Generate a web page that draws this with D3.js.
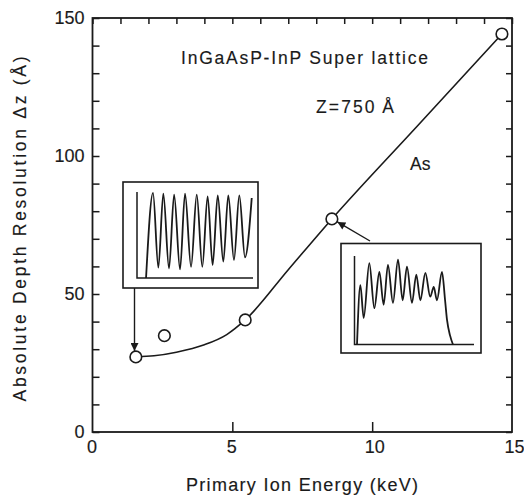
<!DOCTYPE html>
<html><head><meta charset="utf-8">
<script src="https://cdn.jsdelivr.net/npm/d3@7"></script>
<style>
body{margin:0;background:#fff}
svg{display:block}
text{font-family:"Liberation Sans",Arial,Helvetica,sans-serif;fill:#1a1a1a;stroke:#1a1a1a;stroke-width:0.15px}
</style>
</head><body>
<svg id="chart" width="524" height="497"></svg>
<script>
// ---- data ----
const energy = [1.55, 2.57, 5.46, 8.56, 14.64];          // keV
const resolution = [27.2, 34.9, 40.6, 77.2, 144.2];      // Å
// hand-drawn guide curve through the points
const curveEnergy = [1.55, 2.2, 3.0, 4.0, 4.8, 5.46, 7.0, 8.56, 11.6, 14.64];
const curveResolution = [27.2, 27.6, 28.9, 31.6, 35.3, 40.6, 58.8, 77.2, 110.7, 144.2];
const xTickLabels = [0, 5, 10, 15];
const yTickLabels = [0, 50, 100, 150];
const xMinorTicks = d3.range(0, 16, 1);
const yMinorTicks = d3.range(0, 151, 10);
const xBottomTicks = [5, 10];
// inset depth profiles (relative depth, relative intensity)
const insetLowDepth = [0.078,0.138,0.184,0.227,0.276,0.32,0.371,0.414,0.466,0.515,0.563,0.609,0.652,0.696,0.744,0.787,0.836,0.882,0.931,0.989];
const insetLowSignal = [0,0.99,0.12,0.98,0.11,0.97,0.10,0.98,0.13,0.97,0.13,0.95,0.15,0.96,0.19,0.96,0.21,0.96,0.24,0.93];
const insetHighDepth = [0.021,0.049,0.077,0.124,0.166,0.208,0.244,0.280,0.322,0.364,0.403,0.439,0.481,0.517,0.551,0.593,0.634,0.663,0.690,0.732,0.758,0.774,0.800,0.824];
const insetHighSignal = [0,0.67,0.30,0.92,0.41,0.82,0.45,0.90,0.47,0.96,0.50,0.88,0.47,0.79,0.50,0.81,0.54,0.65,0.50,0.82,0.50,0.28,0.10,0];

const svg = d3.select("#chart");
const ink = "#1a1a1a";
const L = 92.5, R = 512, T = 18, B = 432;
const x = d3.scaleLinear().domain([0, 15]).range([L, R]);
const y = d3.scaleLinear().domain([0, 150]).range([B, T]);

// frame
svg.append("rect").attr("x", L).attr("y", T).attr("width", R - L).attr("height", B - T)
  .attr("fill", "none").attr("stroke", ink).attr("stroke-width", 1.8);

function styleAxis(g){
  g.select(".domain").remove();
  g.selectAll("line").attr("stroke", ink).attr("stroke-width", 1.5);
  g.selectAll("text").attr("fill", ink).attr("font-size", 18)
   .attr("font-family", '"Liberation Sans",Arial,sans-serif');
}
// inward ticks
svg.append("g").attr("transform", `translate(${L},0)`)
  .call(d3.axisRight(y).tickValues(yMinorTicks).tickSize(7).tickFormat(""))
  .call(styleAxis);
svg.append("g").attr("transform", `translate(${R},0)`)
  .call(d3.axisLeft(y).tickValues(yMinorTicks).tickSize(6).tickFormat(""))
  .call(styleAxis);
svg.append("g").attr("transform", `translate(0,${T})`)
  .call(d3.axisBottom(x).tickValues(xMinorTicks).tickSize(6).tickFormat(""))
  .call(styleAxis);
svg.append("g").attr("transform", `translate(0,${B})`)
  .call(d3.axisTop(x).tickValues(xBottomTicks).tickSize(10).tickFormat(""))
  .call(styleAxis);
// labels
svg.append("g").attr("transform", `translate(${L},0)`)
  .call(d3.axisLeft(y).tickValues(yTickLabels).tickSize(0).tickPadding(8).tickFormat(d3.format("d")))
  .call(styleAxis);
svg.append("g").attr("transform", `translate(0,${B})`)
  .call(d3.axisBottom(x).tickValues(xTickLabels).tickSize(0).tickPadding(8).tickFormat(d3.format("d")))
  .call(styleAxis)
  .selectAll("text").attr("dx", d => d >= 10 ? 2 : -1);

// axis titles
svg.append("text").attr("x", 186).attr("y", 491).attr("font-size", 18)
  .attr("textLength", 232).attr("lengthAdjust", "spacing")
  .text("Primary Ion Energy (keV)");
svg.append("text").attr("transform", "translate(26,229) rotate(-90)")
  .attr("text-anchor", "middle").attr("font-size", 17.5)
  .attr("textLength", 345).attr("lengthAdjust", "spacing")
  .text("Absolute Depth Resolution  \u0394z (\u00C5)");

// annotations
svg.append("text").attr("x", 181).attr("y", 64).attr("font-size", 17.5)
  .attr("textLength", 247).attr("lengthAdjust", "spacing")
  .text("InGaAsP-InP Super lattice");
svg.append("text").attr("x", 316).attr("y", 113).attr("font-size", 17.5)
  .attr("textLength", 78).attr("lengthAdjust", "spacing")
  .text("Z=750\u2009\u00C5");
svg.append("text").attr("x", 410).attr("y", 170).attr("font-size", 17.5)
  .text("As");

// guide curve
const line = d3.line().x(d => x(d[0])).y(d => y(d[1])).curve(d3.curveMonotoneX);
svg.append("path").datum(d3.zip(curveEnergy, curveResolution))
  .attr("d", line).attr("fill", "none").attr("stroke", ink).attr("stroke-width", 1.6);

// arrow marker
svg.append("defs").append("marker").attr("id", "arr")
  .attr("viewBox", "0 0 10 10").attr("refX", 10).attr("refY", 5)
  .attr("markerWidth", 10).attr("markerHeight", 8).attr("markerUnits", "userSpaceOnUse")
  .attr("orient", "auto")
  .append("path").attr("d", "M0,0L10,5L0,10Z").attr("fill", ink);

// insets
function inset(box, inner, depth, signal){
  const g = svg.append("g");
  g.append("rect").attr("x", box[0]).attr("y", box[1]).attr("width", box[2] - box[0]).attr("height", box[3] - box[1])
    .attr("fill", "#fff").attr("stroke", ink).attr("stroke-width", 1.6);
  const ix = d3.scaleLinear().domain([0, 1]).range([inner[0], inner[2]]);
  const iy = d3.scaleLinear().domain([0, 1]).range([inner[3], inner[1]]);
  g.append("path").attr("d", `M${inner[0]},${inner[1]}V${inner[3]}H${inner[2]}`)
    .attr("fill", "none").attr("stroke", ink).attr("stroke-width", 1.5);
  g.append("path").datum(d3.zip(depth, signal))
    .attr("d", d3.line().x(d => ix(d[0])).y(d => iy(d[1])).curve(d3.curveMonotoneX))
    .attr("fill", "none").attr("stroke", ink).attr("stroke-width", 1.8);
}
inset([123, 182, 258, 288], [137, 192, 253, 278], insetLowDepth, insetLowSignal);
inset([341, 243.5, 481, 353], [354.5, 256, 474, 344.5], insetHighDepth, insetHighSignal);

// arrows
svg.append("path").attr("d", `M134.5,288L134.5,${y(resolution[0]) - 6}`)
  .attr("stroke", ink).attr("stroke-width", 1.4).attr("marker-end", "url(#arr)");
svg.append("path").attr("d", `M370,241L${x(energy[3]) + 5.5},${y(resolution[3]) + 3}`)
  .attr("stroke", ink).attr("stroke-width", 1.4).attr("marker-end", "url(#arr)");

// points
svg.append("g").selectAll("circle").data(d3.zip(energy, resolution)).join("circle")
  .attr("cx", d => x(d[0])).attr("cy", d => y(d[1])).attr("r", 5.8)
  .attr("fill", "#fff").attr("stroke", ink).attr("stroke-width", 1.6);
</script>
</body></html>
